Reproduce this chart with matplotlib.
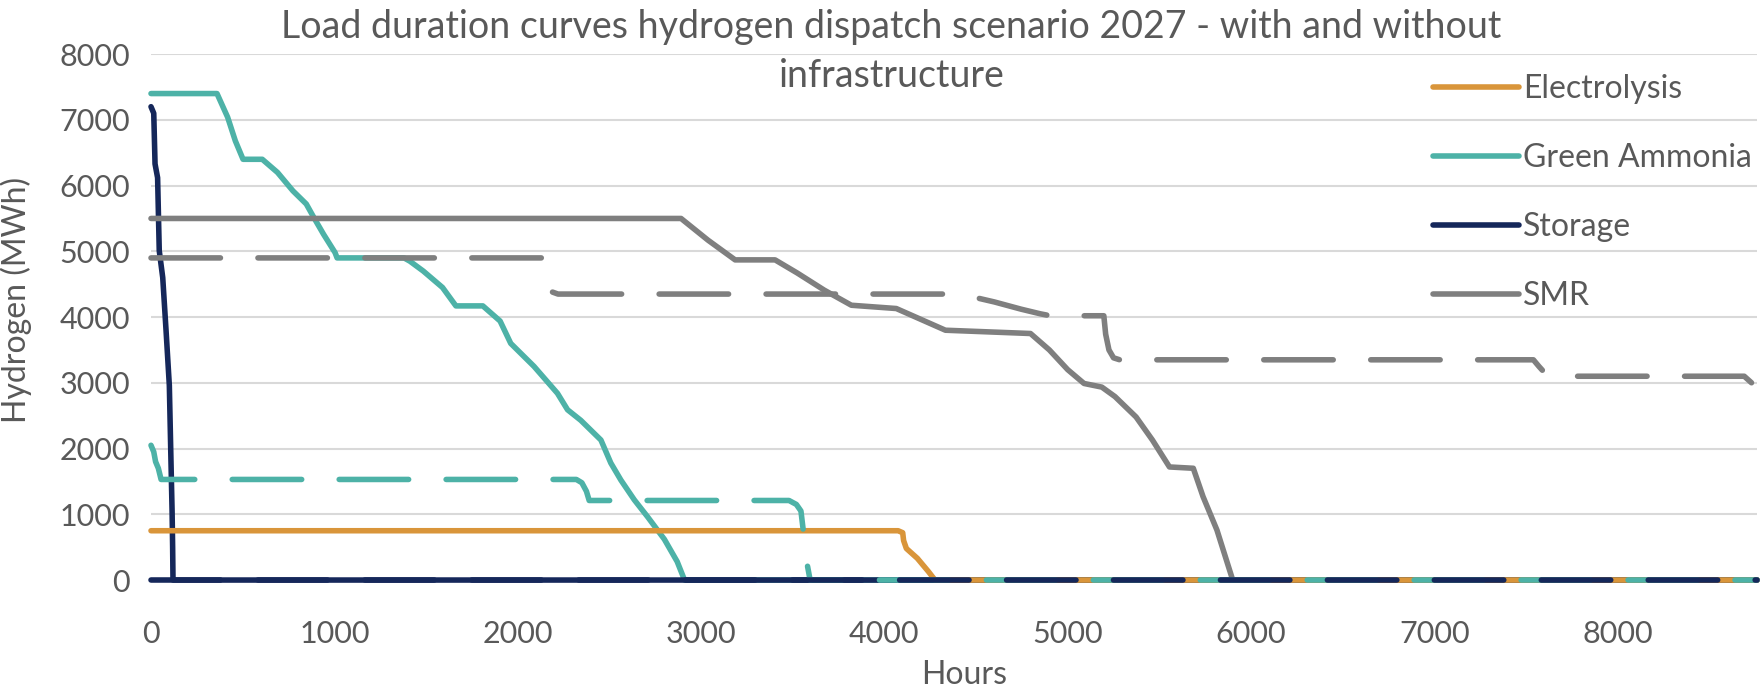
import matplotlib

matplotlib.use("Agg")
import matplotlib.pyplot as plt

# Curvas de duracion de carga (horas, MWh)
# --- sin infraestructura (lineas continuas) ---
electrolysis_h = [0, 4075, 4100, 4105, 4120, 4180, 4240, 4276, 8760]
electrolysis_mwh = [750, 750, 720, 600, 480, 330, 130, 0, 0]

ammonia_h = [0, 360, 418, 460, 502, 607, 690, 774, 847, 889, 941, 1004, 1015,
             1380, 1412, 1485, 1590, 1663, 1810, 1904, 1962, 2089, 2217, 2272,
             2344, 2454, 2508, 2563, 2636, 2709, 2800, 2870, 2910, 8760]
ammonia_mwh = [7400, 7400, 7040, 6680, 6400, 6400, 6200, 5920, 5720, 5510, 5260,
               4980, 4900, 4900, 4850, 4700, 4450, 4170, 4170, 3940, 3600, 3250,
               2840, 2590, 2430, 2130, 1780, 1520, 1220, 960, 620, 280, 0, 0]

storage_h = [0, 15, 22, 36, 45, 64, 82, 100, 109, 115, 118, 120, 8760]
storage_mwh = [7200, 7100, 6330, 6120, 5010, 4600, 3800, 2960, 1800, 1050, 500, 0, 0]

smr_h = [0, 2891, 3038, 3186, 3404, 3525, 3672, 3820, 4065, 4333, 4797, 4900,
         5000, 5089, 5186, 5258, 5373, 5462, 5555, 5685, 5738, 5814, 5900]
smr_mwh = [5500, 5500, 5170, 4870, 4870, 4670, 4410, 4180, 4130, 3800, 3750, 3500,
           3200, 2990, 2935, 2790, 2480, 2130, 1720, 1700, 1270, 760, 0]

# --- con infraestructura (lineas discontinuas) ---
ammonia_dash_h = [0, 15, 25, 40, 55, 2320, 2350, 2375, 2390, 2420, 3480, 3520,
                  3545, 3560, 3575, 3595, 8760]
ammonia_dash_mwh = [2050, 1950, 1800, 1700, 1530, 1530, 1480, 1350, 1210, 1210,
                    1210, 1150, 1050, 700, 300, 0, 0]

storage_dash_h = [0, 8760]
storage_dash_mwh = [0, 0]

smr_dash_h = [0, 2140, 2165, 2190, 2220, 4430, 4492, 4600, 4746, 4850, 4905, 5197,
              5207, 5225, 5250, 5284, 7540, 7570, 7612, 7650, 8690, 8730, 8760]
smr_dash_mwh = [4900, 4900, 4600, 4380, 4350, 4350, 4300, 4230, 4120, 4050, 4020,
                4020, 3740, 3500, 3380, 3350, 3350, 3250, 3120, 3100, 3100, 3000, 2850]

labels = ["Electrolysis", "Green Ammonia", "Storage", "SMR"]
x_ticks = [0, 1000, 2000, 3000, 4000, 5000, 6000, 7000, 8000]
y_ticks = [0, 1000, 2000, 3000, 4000, 5000, 6000, 7000, 8000]

COLOR_ELEC = "#D9953A"
COLOR_NH3 = "#4DB2A7"
COLOR_STOR = "#15275A"
COLOR_SMR = "#7F7F7F"
TEXT_GRAY = "#595959"
GRID_GRAY = "#D9D9D9"

LW = 4.0
DASH = (50, 27)  # puntos, sin escalar por el grosor

plt.rcParams["font.family"] = ["Lato", "DejaVu Sans"]
plt.rcParams["lines.scale_dashes"] = False


def linea(ax, x, y, color, z, dash=None, offset=0):
    estilo = "-" if dash is None else (offset, dash)
    (ln,) = ax.plot(
        x,
        y,
        color=color,
        linewidth=LW,
        linestyle=estilo,
        solid_capstyle="round",
        dash_capstyle="round",
        solid_joinstyle="round",
        clip_on=False,
        zorder=z,
    )
    return ln


fig = plt.figure(figsize=(17.62, 6.92), dpi=100)
ax = fig.add_axes([0.0857, 0.1618, 0.9115, 0.760])

# lineas continuas
h2 = linea(ax, ammonia_h, ammonia_mwh, COLOR_NH3, 1.9)
h3 = linea(ax, storage_h, storage_mwh, COLOR_STOR, 2.0)
h1 = linea(ax, electrolysis_h, electrolysis_mwh, COLOR_ELEC, 2.1)
h4 = linea(ax, smr_h, smr_mwh, COLOR_SMR, 2.2)

# lineas discontinuas; el tramo en cero de amoniaco va aparte para fijar la fase
k = ammonia_dash_mwh.index(0)
linea(ax, ammonia_dash_h[:k + 1], ammonia_dash_mwh[:k + 1], COLOR_NH3, 2.3, DASH)
linea(ax, ammonia_dash_h[k:], ammonia_dash_mwh[k:], COLOR_NH3, 2.3, DASH, offset=27)
linea(ax, storage_dash_h, storage_dash_mwh, COLOR_STOR, 2.4, DASH)
linea(ax, smr_dash_h, smr_dash_mwh, COLOR_SMR, 2.5, DASH)

ax.set_xlim(0, 8760)
ax.set_ylim(0, 8000)
ax.set_xticks(x_ticks)
ax.set_yticks(y_ticks)
ax.grid(axis="y", color=GRID_GRAY, linewidth=1.5)
ax.set_axisbelow(True)
for s in ax.spines.values():
    s.set_visible(False)
ax.tick_params(axis="both", length=0, labelsize=22, labelcolor=TEXT_GRAY)
ax.tick_params(axis="x", pad=29)
ax.tick_params(axis="y", pad=15)

ax.set_xlabel("Hours", fontsize=23, color=TEXT_GRAY)
ax.set_ylabel("Hydrogen (MWh)", fontsize=23, color=TEXT_GRAY)
ax.xaxis.set_label_coords(0.506, -0.152)
ax.yaxis.set_label_coords(-0.074, 0.532)

fig.text(
    0.506,
    0.925,
    "Load duration curves hydrogen dispatch scenario 2027 - with and without\ninfrastructure",
    ha="center",
    va="center",
    fontsize=27,
    color=TEXT_GRAY,
    linespacing=1.45,
)

ax.legend(
    [h1, h2, h3, h4],
    labels,
    loc="upper left",
    bbox_to_anchor=(0.8133, 0.893),
    bbox_transform=fig.transFigure,
    frameon=False,
    fontsize=23,
    labelcolor=TEXT_GRAY,
    handlelength=2.7,
    handletextpad=0.12,
    labelspacing=1.22,
    borderpad=0,
    borderaxespad=0,
)

fig.savefig("out.png", dpi=100)
plt.close(fig)
